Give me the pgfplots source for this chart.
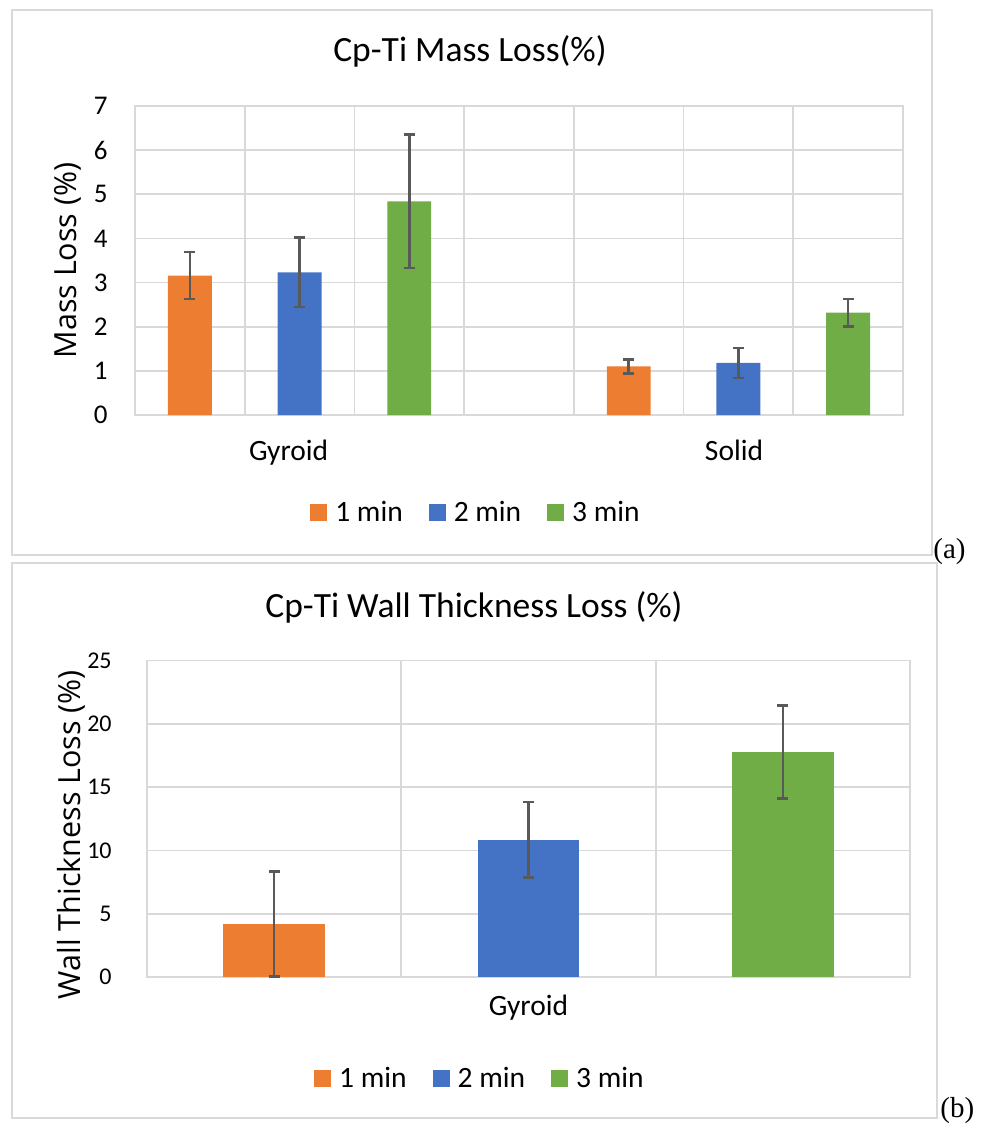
\documentclass[border=0pt]{standalone}
\usepackage{fontspec}
\setmainfont{Carlito}
\newfontfamily\osans{Open Sans}
\newfontfamily\tnr{Liberation Serif}
\usepackage{pgfplots}
\pgfplotsset{compat=1.18}
\definecolor{cOr}{HTML}{ED7D31}
\definecolor{cBl}{HTML}{4472C4}
\definecolor{cGr}{HTML}{70AD47}
\definecolor{cGrid}{HTML}{D9D9D9}
\definecolor{cErr}{HTML}{595959}
\pgfplotsset{
  excelbar/.style={
    scale only axis, anchor=south west,
    ybar, bar shift=0pt, bar width=0.4,
    axis line style={cGrid, line width=0.9pt},
    major grid style={cGrid, line width=0.9pt},
    minor grid style={cGrid, line width=0.9pt},
    ymajorgrids, xminorgrids, xmajorgrids=false,
    major tick length=0pt, minor tick length=0pt,
    ymin=0,
    /pgf/number format/assume math mode=true,
    xticklabel style={font=\fontsize{14.75}{16}\selectfont, anchor=north, inner sep=0pt},
    ylabel style={font=\osans\fontsize{15.25}{17}\selectfont, anchor=center},
    error bars/y dir=both, error bars/y explicit,
    error bars/error bar style={draw=cErr, line width=1.3pt},
    error bars/error mark options={draw=cErr, line width=1.3pt, mark size=2.7pt, rotate=90},
    legend columns=3,
    legend image code/.code={\fill[##1] (0pt,-4.25pt) rectangle (8.5pt,4.25pt);},
    legend style={draw=none, fill=none, anchor=center, inner sep=0pt,
      font=\fontsize{14.75}{16}\selectfont,
      nodes={inner sep=0pt},
      /tikz/every odd column/.append style={column sep=4pt},
      /tikz/every even column/.append style={column sep=13pt}},
  }
}
\begin{document}
\begin{tikzpicture}
\path[use as bounding box] (0pt,0pt) rectangle (492pt,-561.5pt);
\draw[cGrid, line width=0.75pt] (6pt,-5pt) rectangle (466pt,-277.5pt);
\draw[cGrid, line width=0.75pt] (6pt,-281.5pt) rectangle (468.5pt,-559pt);
\node[anchor=base, inner sep=0pt, font=\fontsize{17.75}{20}\selectfont] at (235pt,-31pt) {Cp-Ti Mass Loss(\%)};
\node[anchor=base, inner sep=0pt, font=\fontsize{17.75}{20}\selectfont] at (237pt,-308.5pt) {Cp-Ti Wall Thickness Loss (\%)};
\node[anchor=base west, inner sep=0pt, font=\tnr\fontsize{14.5}{16}\selectfont] at (466.5pt,-279pt) {(a)};
\node[anchor=base west, inner sep=0pt, font=\tnr\fontsize{14.5}{16}\selectfont] at (470pt,-558.5pt) {(b)};

\begin{axis}[excelbar,
  at={(67.5pt,-207.5pt)}, width=384pt, height=154.5pt,
  xmin=0.5, xmax=7.5, ymax=7, ytick={0,1,...,7},
  xtick={1.9,5.96}, xticklabels={Gyroid,Solid},
  minor xtick={0.5,1.5,...,7.5},
  xticklabel style={yshift=-12.5pt},
  yticklabel style={font=\fontsize{13.5}{15}\selectfont, anchor=east, inner sep=0pt, xshift=-13.5pt},
  ylabel={Mass Loss (\%)},
  ylabel style={at={(axis description cs:-0.088,0.5)}},
  legend style={at={(axis description cs:0.4427,-0.317)}},
]
\addplot[fill=cOr, draw=none] coordinates {(1,3.16) +- (0,0.53) (5,1.10) +- (0,0.16)};
\addplot[fill=cBl, draw=none] coordinates {(2,3.23) +- (0,0.785) (6,1.18) +- (0,0.34)};
\addplot[fill=cGr, draw=none] coordinates {(3,4.84) +- (0,1.51) (7,2.32) +- (0,0.31)};
\legend{1 min, 2 min, 3 min}
\end{axis}

\begin{axis}[excelbar,
  at={(73.5pt,-488.5pt)}, width=381.5pt, height=158.25pt,
  xmin=0.5, xmax=3.5, ymax=25, ytick={0,5,...,25},
  xtick={2}, xticklabels={Gyroid},
  minor xtick={0.5,1.5,...,3.5},
  xticklabel style={yshift=-9pt},
  yticklabel style={font=\fontsize{12}{14}\selectfont, anchor=east, inner sep=0pt, xshift=-17.5pt},
  ylabel={Wall Thickness Loss (\%)},
  ylabel style={at={(axis description cs:-0.099,0.45)}},
  legend style={at={(axis description cs:0.435,-0.322)}},
]
\addplot[fill=cOr, draw=none] coordinates {(1,4.2) +- (0,4.15)};
\addplot[fill=cBl, draw=none] coordinates {(2,10.84) +- (0,2.97)};
\addplot[fill=cGr, draw=none] coordinates {(3,17.78) +- (0,3.67)};
\legend{1 min, 2 min, 3 min}
\end{axis}
\end{tikzpicture}
\end{document}
